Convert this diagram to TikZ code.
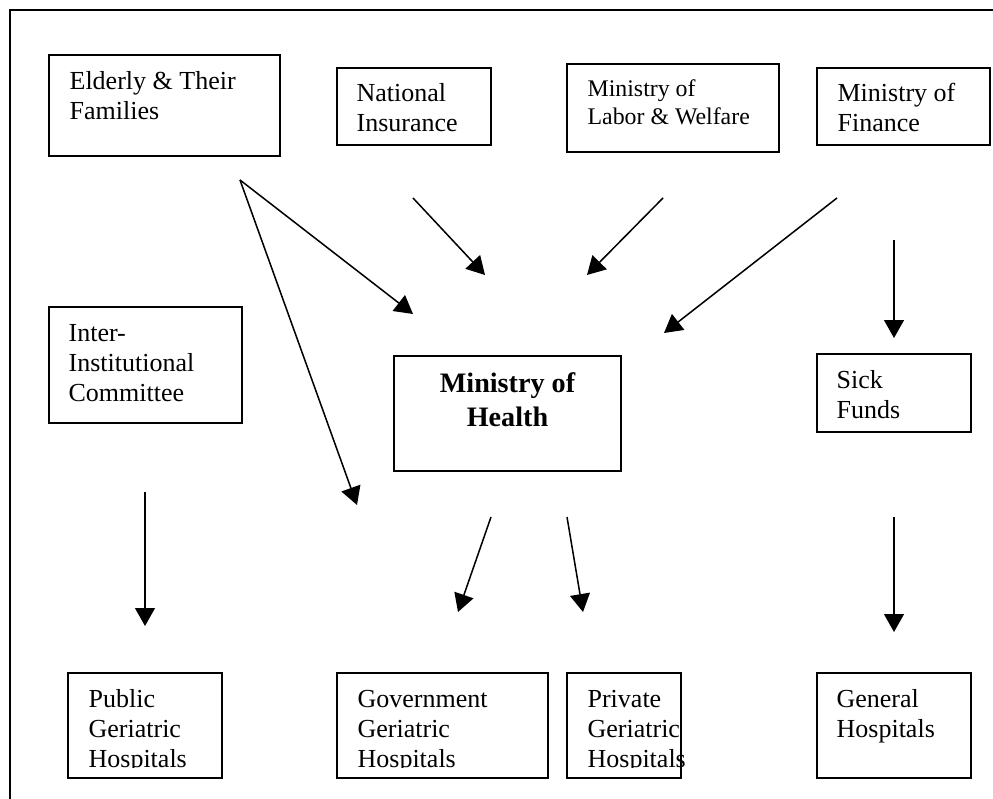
\documentclass[tikz,border=0pt]{standalone}
\usepackage{fontspec}
\setmainfont{Liberation Serif}
\usetikzlibrary{arrows.meta}
\usetikzlibrary{fit}
\usetikzlibrary{calc}

\tikzset{
  box/.style={draw, line width=0.75pt, inner sep=0pt},
  txt/.style={anchor=base west, align=left, inner sep=0pt},
  arr/.style={-{Triangle[length=8.3pt, width=9.2pt]}, line width=0.7pt},
}

\begin{document}
\begin{tikzpicture}[x=0.4615pt, y=-0.4615pt, font=\fontsize{12}{13.85}\selectfont]
\useasboundingbox (0,0) rectangle (993,799);

% outer frame (cut at right and bottom)
\draw[line width=0.95pt] (10,830) -- (10,10) -- (1010,10);

% top row
\node[box, fit={(49,55) (280,156)}] (elderly) {};
\node[box, fit={(337,68) (491,145)}] (natins) {};
\node[box, fit={(567,64) (779,152)}] (labor) {};
\node[box, fit={(817,68) (990,145)}] (finance) {};

% text base = last line
\node[txt] (elderlytxt) at ($(elderly.north west)+(21,65)$) {Elderly \& Their\\Families};
\node[txt] (natinstxt) at ($(natins.north west)+(20,64)$) {National\\Insurance};
\node[txt, font=\fontsize{11}{12.9}\selectfont] (labortxt) at ($(labor.north west)+(21,61)$) {Ministry of\\Labor \& Welfare};
\node[txt] (financetxt) at ($(finance.north west)+(21,64)$) {Ministry of\\Finance};

% middle row
\node[box, fit={(49,307) (242,423)}] (inter) {};
\node[box, fit={(394,356) (621,471)}] (moh) {};
\node[box, fit={(817,354) (971,432)}] (sick) {};

\node[txt] (intertxt) at ($(inter.north west)+(20,95)$) {Inter-\\Institutional\\Committee};
\node[anchor=base, align=center, inner sep=0pt, font=\bfseries\fontsize{13}{15.7}\selectfont] (mohtxt) at ($(moh.north)+(0,71)$) {Ministry of\\Health};
\node[txt] (sicktxt) at ($(sick.north west)+(20,65)$) {Sick\\Funds};

% bottom row
\node[box, fit={(68,673) (222,778)}] (public) {};
\node[box, fit={(337,673) (548,778)}] (gov) {};
\node[box, fit={(567,673) (681,778)}] (private) {};
\node[box, fit={(817,673) (971,778)}] (general) {};

\begin{scope}
\clip (0,673) rectangle (800,767);
\node[txt] (publictxt) at ($(public.north west)+(21,95)$) {Public\\Geriatric\\Hospitals};
\node[txt] (govtxt) at ($(gov.north west)+(21,95)$) {Government\\Geriatric\\Hospitals};
\node[txt] (privatetxt) at ($(private.north west)+(21,95)$) {Private\\Geriatric\\Hospitals};
\end{scope}
\node[txt] (generaltxt) at ($(general.north west)+(20,65)$) {General\\Hospitals};

% arrow ends
\coordinate (eldout)  at (240,180);
\coordinate (mohin1)  at (413,314);
\coordinate (govin1)  at (357,505);
\coordinate (insout)  at (413,198);
\coordinate (mohin2)  at (485,275);
\coordinate (labout)  at (663,198);
\coordinate (mohin3)  at (587,275);
\coordinate (finout1) at (837,198);
\coordinate (mohin4)  at (664,333);
\coordinate (finout2) at (894,240);
\coordinate (sickin)  at (894,338);
\coordinate (intout)  at (145,492);
\coordinate (pubin)   at (145,626);
\coordinate (mohout1) at (491,517);
\coordinate (govin2)  at (458,612);
\coordinate (mohout2) at (567,517);
\coordinate (privin)  at (583,612);
\coordinate (sickout) at (894,517);
\coordinate (genin)   at (894,632);

% arrows
\draw[arr] (eldout) -- (mohin1);
\draw[arr] (eldout) -- (govin1);
\draw[arr] (insout) -- (mohin2);
\draw[arr] (labout) -- (mohin3);
\draw[arr] (finout1) -- (mohin4);
\draw[arr] (finout2) -- (sickin);
\draw[arr] (intout) -- (pubin);
\draw[arr] (mohout1) -- (govin2);
\draw[arr] (mohout2) -- (privin);
\draw[arr] (sickout) -- (genin);

\end{tikzpicture}
\end{document}
